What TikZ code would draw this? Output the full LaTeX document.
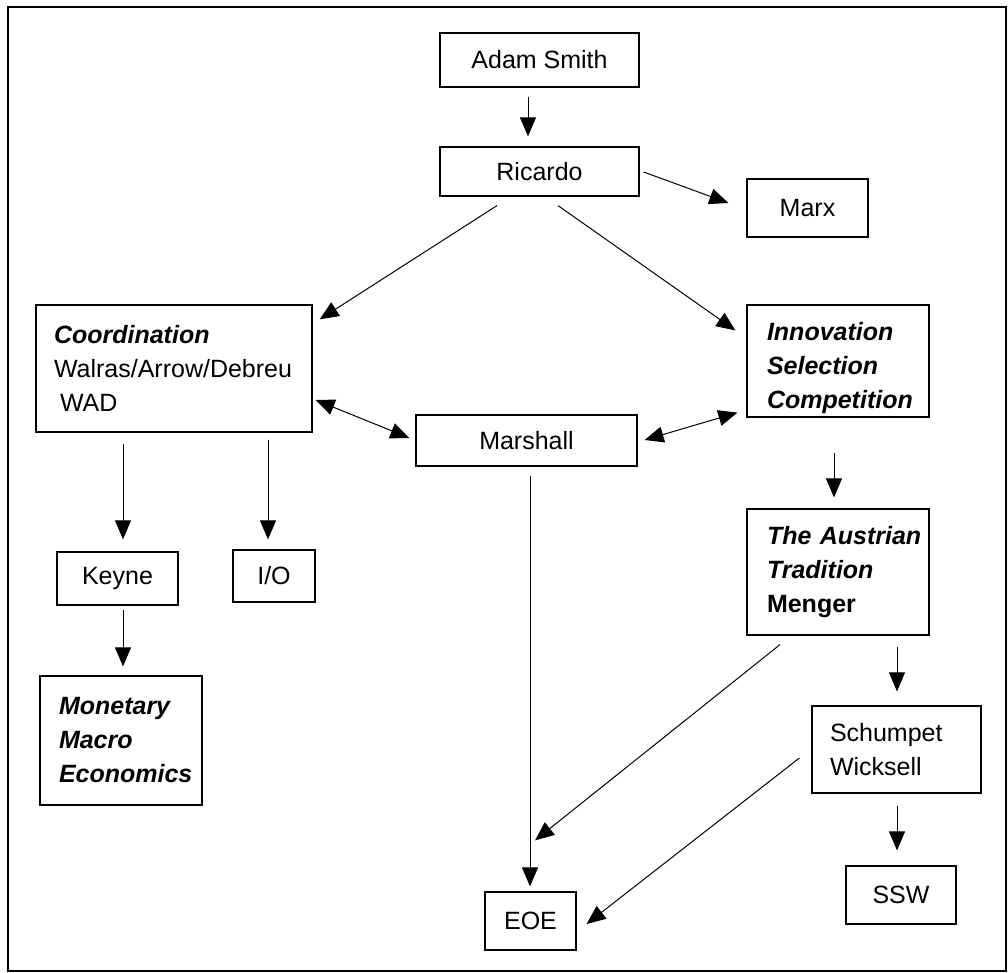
\documentclass[tikz,border=0pt]{standalone}
\usepackage{fontspec}
\setmainfont{Liberation Sans}
\usepackage{tikz}
\usetikzlibrary{arrows.meta}

\begin{document}
\begin{tikzpicture}
[x=1pt,y=-1pt,
every node/.style={draw,line width=1.2pt,inner sep=0pt,font=\fontsize{25}{34}\selectfont},
namebox/.style={align=center},
textbox/.style={align=left,inner ysep=0pt},
arr/.style={-{Triangle[length=19pt,width=16pt]},line width=1pt},
both/.style={{Triangle[length=19pt,width=16pt]}-{Triangle[length=19pt,width=16pt]},line width=1pt}]
\useasboundingbox (0,0) rectangle (1008,973);
\draw[line width=2pt] (8,7) rectangle (1006,971);
\node (AS) [namebox,minimum width=199pt,minimum height=54pt] at (539.5,60) {Adam Smith};
\node (RI) [namebox,minimum width=199pt,minimum height=49pt] at (539.5,171.5) {Ricardo};
\node (MX) [namebox,minimum width=121pt,minimum height=58pt] at (807.5,208) {Marx};
\node (CO) [textbox,text width=240pt,inner xsep=18pt,minimum height=127pt] at (174,368.5)
{\textbf{\textit{Coordination}}\\Walras/Arrow/Debreu\\\hspace*{6pt}WAD};
\node (IN) [textbox,text width=142pt,inner xsep=20pt,minimum height=112pt] at (838,361)
{\rule{0pt}{32pt}\textbf{\textit{Innovation}}\\\textbf{\textit{Selection}}\\\mbox{\textbf{\textit{Competition}}}};
\node (MA) [namebox,minimum width=221pt,minimum height=51pt] at (526.5,440.5) {Marshall};
\node (KE) [namebox,minimum width=121pt,minimum height=53pt] at (117.5,578.5) {Keyne};
\node (IO) [namebox,minimum width=82pt,minimum height=52pt] at (274,576) {I/O};
\node (AT) [textbox,text width=142pt,inner xsep=20pt,minimum height=126pt] at (838,572)
{\mbox{\textbf{\textit{The Austrian}}}\\\textbf{\textit{Tradition}}\\\textbf{Menger}};
\node (MM) [textbox,text width=124pt,inner xsep=19pt,minimum height=129pt] at (121,740.5)
{\textbf{\textit{Monetary}}\\\textbf{\textit{Macro}}\\\mbox{\textbf{\textit{Economics}}}};
\node (SW) [textbox,text width=133pt,inner xsep=18pt,minimum height=87pt] at (896.5,749.5)
{Schumpet\\Wicksell};
\node (SSW) [namebox,minimum width=110pt,minimum height=58pt] at (901,895) {SSW};
\node (EOE) [namebox,minimum width=91pt,minimum height=58pt] at (530.5,921) {EOE};
\draw[arr] ([shift={(-11.5,9)}]AS.south) -- ([shift={(-11.5,-10)}]RI.north);
\draw[arr] ([shift={(4,0.5)}]RI.east) -- ([shift={(-18,-5)}]MX.west);
\draw[arr] ([shift={(-42.5,9)}]RI.south) -- ([shift={(7,15)}]CO.north east);
\draw[arr] ([shift={(18.5,9)}]RI.south) -- ([shift={(-11,26)}]IN.north west);
\draw[both] ([shift={(3,31.5)}]CO.east) -- ([shift={(-6,-2.5)}]MA.west);
\draw[both] ([shift={(7,-0.5)}]MA.east) -- ([shift={(-9,-5)}]IN.south west);
\draw[arr] ([shift={(-51,11)}]CO.south) -- ([shift={(5.5,-12)}]KE.north);
\draw[arr] ([shift={(94,7)}]CO.south) -- ([shift={(-6,-10)}]IO.north);
\draw[arr] ([shift={(5.5,4)}]KE.south) -- ([shift={(2,-9)}]MM.north);
\draw[arr] ([shift={(-4,35)}]IN.south) -- ([shift={(-4,-11)}]AT.north);
\draw[arr] ([shift={(3.5,9)}]MA.south) -- ([shift={(-0.5,-5)}]EOE.north);
\draw[arr] ([shift={(-58,9)}]AT.south) -- ([shift={(4.5,-51)}]EOE.north);
\draw[arr] ([shift={(59,11)}]AT.south) -- ([shift={(0.5,-14)}]SW.north);
\draw[arr] ([shift={(-12,8.5)}]SW.west) -- ([shift={(10,3)}]EOE.east);
\draw[arr] ([shift={(0.5,12)}]SW.south) -- ([shift={(-4,-15)}]SSW.north);
%\draw[arr] (MA) -- (AT);
\end{tikzpicture}
\end{document}
